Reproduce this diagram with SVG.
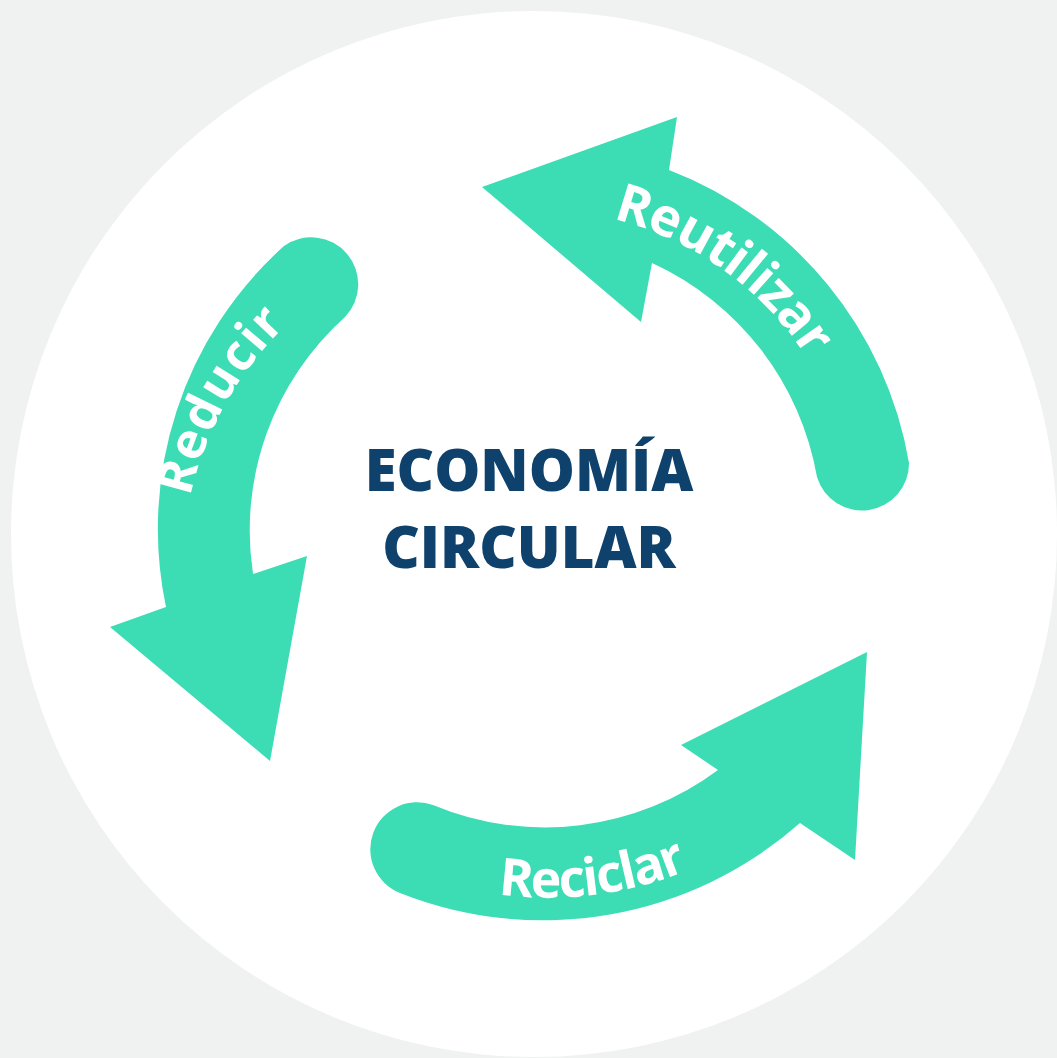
<svg xmlns="http://www.w3.org/2000/svg" xmlns:xlink="http://www.w3.org/1999/xlink" width="1057" height="1058" viewBox="0 0 1057 1058">
  <style>
    .arrow { fill: #3cdcb4; }
    .lbl { fill: #ffffff; font-family: "Open Sans", "Liberation Sans", sans-serif; font-weight: 700; }
    .title { fill: #0e426c; font-family: "Open Sans", "Liberation Sans", sans-serif; font-weight: 800; font-size: 58px; text-anchor: middle; }
  </style>
  <defs>
    <path id="p-reutilizar" d="M 612.6,218.7 A 325 325 0 0 1 830,400"/>
    <path id="p-reducir" d="M 190,497 Q 213,395 291,320 L 330,280"/>
    <path id="p-reciclar" d="M 498,894 A 365 365 0 0 0 720,855"/>
  </defs>
  <rect id="background" x="0" y="0" width="1057" height="1058" fill="#f0f2f1"/>
  <circle id="disc" cx="534" cy="534" r="523" fill="#ffffff"/>

  <g id="connectors">
    <g id="reutilizar">
      <path class="arrow" d="M 669,170 A 383 383 0 0 1 909,463 A 47 47 0 0 1 817,477 A 290 290 0 0 0 652,263 L 641,322 L 482,187 L 677,117 Z"/>
      <text class="lbl" font-size="53"><textPath xlink:href="#p-reutilizar" href="#p-reutilizar" textLength="245" lengthAdjust="spacing">Reutilizar</textPath></text>
    </g>
    <g id="reducir">
      <path class="arrow" d="M 166,607 A 380 380 0 0 1 284,246 A 47 47 0 0 1 345,317 A 287 287 0 0 0 253,574 L 307,556 L 270,761 L 110,627 Z"/>
      <text class="lbl" font-size="50"><textPath xlink:href="#p-reducir" href="#p-reducir" textLength="200" lengthAdjust="spacing">Reducir</textPath></text>
    </g>
    <g id="reciclar">
      <path class="arrow" d="M 800,823 A 388 388 0 0 1 400,893 A 47 47 0 0 1 433,805 A 290 290 0 0 0 718,770 L 681,745 L 867,652 L 855,860 Z"/>
      <text class="lbl" font-size="52"><textPath xlink:href="#p-reciclar" href="#p-reciclar" textLength="194" lengthAdjust="spacing">Reciclar</textPath></text>
    </g>
  </g>

  <g id="center-title">
    <text class="title" x="529" y="491">ECONOMÍA</text>
    <text class="title" x="529" y="568">CIRCULAR</text>
  </g>
</svg>
